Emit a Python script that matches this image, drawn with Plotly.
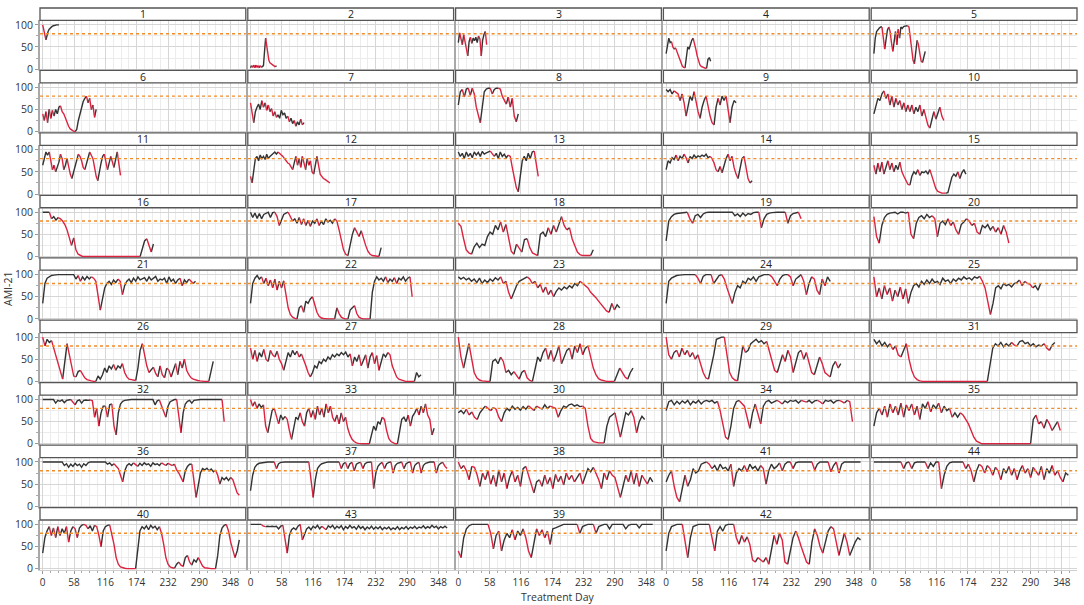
import plotly.graph_objects as go

# ---- data: AMI-21 score per panel, sampled every `step_days[panel]` treatment days ----
p1 = [100, 88, 72, 66, 78, 85, 90, 93, 95, 97, 98, 99, 99, 100, 100, 100]
p2 = [3, 8, 4, 9, 3, 9, 4, 8, 3, 8, 4, 6, 8, 40, 70, 50, 30, 20, 14, 12, 10, 8, 6, 5, 8]
p3 = [60, 82, 70, 55, 78, 60, 50, 30, 62, 72, 58, 70, 64, 72, 60, 75, 68, 30, 65, 78, 85, 55]
p4 = [35, 55, 70, 60, 62, 50, 45, 48, 40, 30, 20, 12, 7, 4, 3, 25, 50, 45, 58, 65, 70, 60, 45, 30, 18, 10, 6, 4, 3, 2, 2, 22, 26, 18]
p5 = [35, 70, 85, 90, 93, 95, 95, 70, 45, 70, 88, 95, 85, 60, 40, 60, 85, 55, 90, 70, 95, 92, 96, 97, 98, 98, 95, 70, 40, 20, 12, 35, 65, 55, 35, 18, 15, 30, 40]
p6 = [40, 25, 45, 20, 50, 30, 48, 35, 50, 40, 55, 58, 45, 40, 30, 20, 12, 6, 3, 1, 0, 5, 25, 40, 55, 68, 75, 80, 65, 75, 50, 60, 32, 50]
p7 = [65, 40, 20, 45, 55, 62, 50, 70, 55, 65, 48, 60, 45, 52, 35, 45, 32, 38, 30, 48, 38, 42, 30, 35, 22, 30, 18, 25, 12, 22, 15, 28, 15, 20]
p8 = [60, 90, 95, 78, 96, 98, 82, 98, 85, 55, 35, 20, 60, 90, 96, 98, 98, 85, 95, 98, 98, 96, 80, 70, 62, 78, 55, 75, 35, 22, 40]
p9 = [95, 90, 95, 85, 92, 88, 85, 70, 85, 65, 35, 60, 80, 70, 90, 65, 45, 30, 55, 70, 80, 55, 35, 20, 15, 55, 75, 60, 80, 70, 80, 45, 20, 55, 70, 65]
p10 = [40, 60, 75, 70, 85, 92, 75, 85, 60, 80, 55, 75, 60, 70, 50, 65, 45, 60, 45, 60, 40, 55, 45, 60, 35, 50, 30, 15, 8, 25, 45, 28, 40, 55, 35, 25]
p11 = [65, 80, 95, 88, 95, 70, 55, 65, 50, 60, 72, 90, 80, 55, 65, 80, 60, 45, 35, 50, 65, 80, 90, 85, 75, 60, 55, 70, 85, 95, 88, 80, 60, 40, 30, 55, 70, 85, 90, 75, 55, 70, 85, 70, 60, 80, 95, 70, 42]
p12 = [40, 25, 55, 80, 85, 75, 88, 80, 85, 78, 90, 80, 85, 88, 92, 95, 90, 95, 92, 90, 85, 80, 75, 70, 68, 60, 55, 70, 85, 65, 80, 60, 85, 70, 55, 80, 65, 75, 50, 45, 70, 85, 60, 45, 40, 35, 33, 30, 28, 25]
p13 = [95, 85, 92, 80, 95, 85, 92, 82, 95, 88, 94, 85, 96, 90, 93, 95, 97, 90, 85, 92, 80, 95, 85, 90, 82, 88, 85, 60, 35, 15, 5, 45, 75, 85, 75, 92, 80, 95, 97, 70, 40]
p14 = [55, 75, 70, 82, 78, 88, 75, 85, 80, 90, 82, 70, 85, 80, 88, 82, 86, 84, 88, 85, 90, 82, 85, 80, 70, 55, 50, 62, 48, 65, 80, 90, 75, 85, 60, 45, 35, 55, 80, 85, 60, 35, 25, 30]
p15 = [65, 45, 70, 50, 72, 45, 60, 75, 55, 70, 50, 65, 55, 72, 50, 40, 30, 22, 20, 40, 50, 45, 55, 42, 50, 48, 52, 45, 55, 40, 25, 12, 6, 3, 2, 2, 2, 3, 20, 38, 45, 40, 50, 35, 48, 55, 45]
p16 = [100, 100, 100, 100, 85, 90, 82, 88, 85, 80, 72, 60, 40, 25, 42, 15, 5, 2,
       0, 0, 0, 0, 0, 0, 0, 0, 0, 0, 0, 0, 0, 0, 0, 0, 0, 0, 0, 0, 0, 0, 0, 0, 0, 0, 0,
       15, 35, 40, 25, 10, 28]
p17 = [100, 88, 98, 86, 97, 85, 95, 98, 100, 88, 99, 100, 90, 70, 85, 95, 98, 100, 90, 80, 85, 75, 88, 72, 85, 70, 82, 68, 80, 75, 85, 70, 80, 72, 85, 78, 82, 75, 85, 80, 60, 35, 15, 5, 2, 30, 50, 65, 55, 45, 58, 40, 25, 12, 5, 2, 1, 0, 0, 20]
p18 = [75, 68, 40, 15, 8, 5, 22, 30, 20, 28, 25, 45, 55, 50, 70, 60, 78, 55, 72, 40, 12, 5, 28, 18, 10, 38, 40, 20, 8, 4, 2, 50, 55, 45, 65, 50, 70, 55, 75, 90, 70, 60, 65, 40, 25, 10, 4, 2, 2, 2, 2, 15]
p19 = [35, 80, 90, 95, 97, 98, 99, 100, 100, 85, 75, 92, 95, 88, 96, 99, 100, 100, 100, 100, 100, 100, 100, 100, 100, 100, 92, 96, 90, 98, 92, 97, 95, 99, 100, 100, 65, 85, 95, 98, 99, 100, 100, 100, 100, 100, 75, 92, 97, 99, 100, 85]
p20 = [90, 45, 30, 70, 88, 95, 98, 99, 100, 96, 100, 100, 98, 100, 50, 40, 75, 88, 92, 85, 95, 88, 92, 85, 45, 75, 80, 72, 85, 70, 78, 60, 50, 72, 78, 85, 80, 70, 75, 55, 50, 70, 65, 72, 60, 68, 55, 65, 50, 70, 55, 30]
p21 = [35, 80, 92, 96, 98, 99, 100, 100, 100, 100, 100, 100, 100, 100, 100, 90, 98, 85, 95, 88, 96, 90, 95, 92, 85, 50, 20, 50, 70, 80, 85, 78, 88, 82, 90, 85, 55, 75, 85, 90, 82, 92, 85, 95, 88, 90, 93, 85, 95, 88, 92, 96, 85, 90, 88, 92, 80, 95, 85, 90, 80, 88, 92, 75, 88, 82, 90, 85, 80, 85]
p22 = [35, 80, 92, 98, 90, 95, 80, 92, 75, 88, 70, 90, 65, 85, 70, 86, 50, 25, 10, 4, 1, 0, 25, 30, 15, 40, 35, 45, 50, 30, 15, 6, 2, 1, 0, 0, 0, 0, 0, 25, 12, 4, 1, 0, 0, 20, 25, 30, 12, 4, 1, 0, 0, 0, 0, 60, 85, 95, 88, 92, 85, 95, 82, 90, 85, 93, 80, 92, 88, 95, 85, 92, 95, 50]
p23 = [95, 90, 94, 88, 92, 85, 90, 82, 92, 80, 88, 82, 90, 85, 93, 88, 95, 80, 85, 60, 45, 60, 75, 85, 88, 92, 95, 90, 80, 85, 70, 78, 60, 72, 55, 65, 50, 62, 70, 65, 72, 68, 75, 70, 80, 75, 85, 80, 75, 70, 60, 55, 48, 40, 32, 25, 18, 15, 35, 20, 32, 25]
p24 = [35, 85, 92, 96, 98, 99, 100, 100, 100, 100, 100, 100, 92, 80, 96, 100, 100, 100, 80, 90, 98, 100, 90, 70, 50, 35, 60, 75, 70, 85, 80, 92, 88, 95, 85, 95, 98, 100, 100, 100, 95, 85, 75, 90, 98, 100, 100, 95, 75, 90, 95, 100, 85, 55, 80, 95, 90, 65, 55, 90, 75, 95, 85]
p25 = [95, 50, 70, 45, 75, 55, 70, 40, 65, 50, 72, 45, 68, 35, 60, 75, 80, 72, 85, 78, 88, 80, 90, 82, 85, 78, 92, 85, 88, 80, 90, 85, 92, 88, 95, 90, 93, 88, 95, 92, 96, 85, 70, 40, 10, 35, 70, 75, 68, 80, 75, 78, 72, 80, 82, 88, 75, 85, 80, 78, 70, 75, 65, 80]
p26 = [100, 80, 95, 88, 92, 75, 55, 40, 20, 5, 50, 85, 60, 30, 12, 10, 22, 25, 15, 8, 4, 2, 1, 0, 0, 12, 5, 15, 30, 20, 35, 28, 38, 25, 35, 30, 40, 20, 10, 5, 4, 3, 2, 30, 70, 85, 60, 35, 20, 25, 32, 18, 10, 35, 15, 8, 30, 25, 10, 28, 40, 15, 45, 30, 50, 25, 15, 8, 5, 3, 2, 1, 0, 0, 0, 0, 20, 45]
p27 = [75, 50, 70, 45, 65, 55, 72, 50, 45, 70, 60, 55, 68, 50, 40, 25, 45, 65, 55, 70, 60, 68, 55, 62, 50, 35, 20, 10, 20, 35, 30, 45, 40, 50, 45, 55, 50, 60, 55, 62, 58, 65, 60, 66, 55, 62, 35, 55, 45, 60, 35, 50, 60, 30, 55, 65, 40, 58, 25, 45, 62, 55, 65, 60, 35, 20, 10, 5, 3, 1, 0, 0, 0, 0, 0, 20, 10, 15]
p28 = [100, 55, 30, 60, 85, 50, 20, 8, 3, 1, 0, 0, 0, 45, 50, 40, 55, 45, 20, 25, 15, 22, 12, 5, 20, 25, 8, 2, 0, 30, 55, 45, 65, 75, 50, 70, 45, 60, 80, 40, 55, 70, 75, 50, 80, 65, 85, 60, 75, 80, 55, 30, 15, 6, 3, 1, 0, 0, 0, 0, 15, 30, 20, 10, 5, 20, 30]
p29 = [100, 60, 50, 65, 70, 55, 75, 60, 70, 55, 65, 50, 60, 40, 20, 8, 5, 30, 60, 95, 98, 100, 100, 60, 20, 8, 3, 1, 40, 80, 65, 70, 85, 90, 95, 88, 92, 85, 90, 70, 45, 25, 20, 40, 60, 45, 70, 55, 20, 40, 65, 70, 50, 65, 40, 20, 15, 35, 55, 40, 20, 15, 10, 35, 45, 30, 40]
p30 = [70, 75, 68, 78, 65, 72, 60, 55, 70, 78, 85, 80, 75, 82, 78, 60, 50, 70, 80, 75, 85, 78, 82, 76, 84, 78, 86, 80, 75, 85, 82, 78, 88, 80, 85, 82, 80, 60, 75, 85, 82, 88, 90, 85, 88, 84, 85, 80, 40, 12, 5, 3, 2, 2, 2, 40, 60, 65, 70, 40, 15, 45, 70, 65, 75, 60, 25, 50, 62, 55]
p31 = [95, 85, 92, 80, 88, 78, 85, 72, 80, 60, 55, 70, 85, 50, 25, 10, 4, 1,
       0, 0, 0, 0, 0, 0, 0, 0, 0, 0, 0, 0, 0, 0, 0, 0, 0, 0, 0, 0, 0, 0, 0, 0, 0,
       40, 75, 85, 80, 88, 78, 85, 80, 88, 82, 80, 90, 92, 85, 88, 80, 85, 78, 82, 80, 85, 75, 70, 82, 88]
p32 = [100, 100, 100, 100, 100, 100, 92, 98, 96, 99, 93, 98, 99, 100, 95, 88, 97, 99, 92, 98, 99, 98, 99, 97,
       60, 80, 40, 70, 85, 85, 60, 88, 90, 40, 20, 70, 90, 96, 98, 99,
       100, 100, 100, 100, 100, 100, 100, 100, 100, 100, 100, 100,
       88, 97, 99, 85, 70, 60, 85, 95, 98, 100, 100, 60, 25, 70, 90, 96, 98, 92, 98, 99, 100,
       100, 100, 100, 100, 100, 100, 100, 100, 100, 100, 100, 50]
p33 = [100, 85, 95, 80, 90, 82, 88, 40, 25, 55, 75, 80, 60, 45, 65, 55, 62, 55, 30, 10, 35, 60, 55, 70, 50, 40, 70, 80, 60, 75, 55, 85, 65, 80, 60, 90, 70, 85, 60, 50, 65, 45, 70, 50, 60, 35, 20, 10, 5, 2, 1, 0, 0, 0, 0, 0, 20, 40, 30, 50, 45, 60, 55, 30, 12, 5, 2, 0, 0, 30, 55, 60, 50, 65, 40, 62, 70, 80, 65, 85, 70, 90, 65, 55, 20, 35]
p34 = [75, 95, 98, 88, 96, 90, 97, 92, 98, 88, 96, 92, 98, 90, 96, 98, 95, 98, 92, 96, 75, 45, 15, 10, 40, 80, 95, 98, 92, 85, 60, 35, 70, 90, 70, 45, 85, 95, 98, 92, 96, 98, 95, 90, 97, 93, 98, 96, 98, 92, 98, 96, 94, 98, 92, 97, 98, 95, 90, 98, 96, 98, 92, 97, 98, 96, 92, 98, 95, 50]
p35 = [40, 70, 80, 65, 85, 60, 90, 70, 85, 65, 92, 60, 88, 75, 90, 65, 85, 55, 90, 80, 95, 72, 88, 80, 92, 70, 85, 75,
       80, 60, 70, 60, 70, 65, 55, 45, 30, 15, 6, 2,
       0, 0, 0, 0, 0, 0, 0, 0, 0, 0, 0, 0, 0, 0, 0, 0, 0, 0, 0,
       55, 65, 45, 50, 35, 55, 45, 30, 40, 50, 30]
p36 = [100, 100, 100, 100, 100, 100, 100, 100, 100, 100,
       92, 96, 88, 95, 90, 97, 92, 95, 88, 96, 92, 98,
       100, 100, 100, 100, 100, 100, 100, 100,
       95, 98, 92, 96, 90, 85, 70, 55, 80, 92, 96, 92, 98, 94, 90, 97, 92, 98, 94, 96, 90, 98, 94, 96, 92, 98, 95, 92, 97, 94, 92, 95,
       82, 75, 65, 55, 80, 90, 95, 95, 60, 20, 50, 75, 85, 82, 86, 80, 84, 78, 82, 70, 50, 65, 60, 65, 58, 65, 60, 45, 30, 25]
p37 = [35, 70, 88, 94, 97, 98, 99, 100, 100, 100, 100, 100,
       85, 96, 99,
       100, 100, 100, 100, 100, 100, 100, 100, 100, 100, 100, 100, 100,
       60, 20, 60, 85, 92, 96, 98, 99,
       100, 100, 100, 100, 100, 100,
       85, 96, 99, 85, 96, 99, 80, 95, 98, 99, 85, 96, 99, 100, 100,
       40, 75, 90, 96, 99, 85, 96, 99, 100, 75, 92, 97, 99, 100,
       85, 96, 99, 100, 75, 92, 97, 99, 75, 92, 97, 99, 100, 100, 100,
       75, 92, 97, 99, 90, 85]
p38 = [100, 85, 92, 80, 60, 90, 88, 70, 45, 75, 60, 80, 50, 70, 45, 82, 55, 75, 40, 65, 80, 55, 70, 45, 85, 90, 70, 45, 30, 55, 60, 45, 70, 50, 65, 40, 72, 55, 68, 48, 75, 60, 70, 55, 65, 75, 50, 70, 85, 78, 88, 75, 60, 40, 75, 60, 80, 70, 65, 40, 20, 45, 70, 55, 80, 50, 75, 45, 70, 60, 50, 65, 55]
p39 = [40, 25, 70, 90, 97, 100, 100, 100, 100, 100, 100, 100, 80, 45, 75, 85, 40, 65, 80, 70, 88, 65, 85, 75, 90, 70, 40, 25, 60, 90, 75, 88, 70, 85, 55, 90, 92, 95, 98, 100, 100, 100, 100, 100, 100, 80, 95, 98, 100, 100, 100, 80, 95, 98, 100, 100, 90, 100, 100, 100, 100, 100, 90, 98, 100, 100, 100, 92, 100, 100, 100, 100, 100]
p40 = [35, 70, 85, 95, 75, 92, 70, 95, 75, 90, 80, 95, 60, 85, 95, 90, 70, 92, 98, 100, 98, 90, 97, 85, 98, 95, 75, 50, 85, 95, 98, 99, 80, 55, 25, 10, 4, 2, 1, 0, 0, 0, 0, 0, 40, 85, 95, 90, 97, 88, 98, 92, 96, 88, 95, 80, 55, 25, 10, 4, 2, 1, 10, 15, 8, 5, 25, 30, 15, 8, 20, 15, 25, 15, 6, 2, 1, 0, 0, 0, 0, 30, 75, 92, 98, 100, 85, 60, 40, 25, 40, 65]
p41 = [55, 70, 80, 45, 20, 10, 40, 70, 45, 60, 85, 75, 80, 95, 98, 100, 95, 85, 92, 80, 95, 85, 88, 80, 95, 45, 75, 85, 80, 92, 78, 95, 85, 90, 80, 92, 85, 50, 80, 95, 85, 90, 98, 80, 95, 100, 100, 85, 98, 100, 100, 100, 100, 100, 100, 82, 95, 100, 100, 100, 100, 78, 92, 100, 75, 95, 100, 100, 100, 100, 100, 100, 100]
p42 = [40, 80, 95, 98, 100, 100, 100, 60, 25, 70, 95, 98, 100, 100, 100, 100, 100, 70, 40, 85, 95, 85, 98, 100, 100, 100, 70, 55, 75, 60, 72, 55, 20, 15, 25, 20, 15, 25, 10, 40, 75, 55, 80, 65, 15, 10, 40, 70, 85, 70, 50, 30, 15, 10, 60, 90, 75, 50, 35, 60, 85, 95, 90, 60, 30, 55, 80, 60, 30, 45, 60, 70, 65]
p43 = [100, 100, 100, 100, 100, 100, 96, 95, 96, 95, 96, 95, 96, 90, 96, 98, 70, 35, 75, 88, 92, 88, 96, 100, 65, 80, 90, 94, 88, 96, 92, 98, 90, 96, 92, 88, 97, 93, 98, 90, 96, 92, 97, 88, 95, 91, 98, 92, 95, 89, 97, 91, 95, 88, 94, 90, 96, 89, 94, 90, 95, 88, 93, 90, 94, 88, 92, 89, 95, 88, 93, 90, 95, 89, 94, 91, 96, 90, 94, 92, 97, 91, 95, 92, 98, 93, 96, 90, 95, 92, 96, 92]
p44 = [100, 100, 100, 100, 100, 100, 100, 100, 100, 100, 100, 85, 98, 100, 85, 98, 100, 100, 100, 100, 85, 98, 90, 100, 100, 40, 70, 90, 98, 100, 100, 100, 100, 100, 85, 95, 80, 55, 80, 95, 90, 75, 92, 85, 70, 88, 80, 60, 85, 75, 90, 70, 85, 60, 80, 92, 75, 85, 65, 88, 80, 70, 90, 60, 85, 75, 92, 70, 80, 65, 55, 75, 70]

series = {1: p1, 2: p2, 3: p3, 4: p4, 5: p5, 6: p6, 7: p7, 8: p8, 9: p9, 10: p10,
          11: p11, 12: p12, 13: p13, 14: p14, 15: p15, 16: p16, 17: p17, 18: p18, 19: p19, 20: p20,
          21: p21, 22: p22, 23: p23, 24: p24, 25: p25, 26: p26, 27: p27, 28: p28, 29: p29, 30: p30,
          31: p31, 32: p32, 33: p33, 34: p34, 35: p35, 36: p36, 37: p37, 38: p38, 39: p39, 40: p40,
          41: p41, 42: p42, 43: p43, 44: p44}

step_days = {1: 2, 2: 2, 3: 2.5, 4: 2.5, 5: 2.5, 6: 3, 7: 3, 8: 3.7, 9: 3.7, 10: 3.7,
             11: 3, 12: 3, 13: 3.7, 14: 3.7, 15: 3.7, 16: 4.1, 17: 4.1, 18: 4.9, 19: 4.9, 20: 4.9,
             21: 4.1, 22: 4.1, 23: 4.9, 24: 4.9, 25: 4.9, 26: 4.1, 27: 4.1, 28: 4.9, 29: 4.9, 30: 5,
             31: 5, 32: 4, 33: 4, 34: 5, 35: 5, 36: 4, 37: 4, 38: 5, 39: 5, 40: 4,
             41: 5, 42: 5, 43: 4, 44: 5}

panel_order = [1, 2, 3, 4, 5, 6, 7, 8, 9, 10, 11, 12, 13, 14, 15, 16, 17, 18, 19, 20,
               21, 22, 23, 24, 25, 26, 27, 28, 29, 31, 32, 33, 30, 34, 35, 36, 37, 38, 41, 44,
               40, 43, 39, 42, None]

x_ticks = [0, 58, 116, 174, 232, 290, 348]
y_ticks = [0, 50, 100]
threshold = 80

# ---- layout geometry ----
W, H = 1084, 605
ML, MR, MT, MB = 40, 7, 5, 35
PW, PH = W - ML - MR, H - MT - MB
NCOL, NROW = 5, 9
GAP = 2.0
CW = (PW - GAP * (NCOL - 1)) / NCOL
RH = PH / NROW
SH = 12.5

BLACK = "#333333"
RED = "#dc2340"
FONT = "Open Sans"


def colour_runs(vals, step):
    xs = [i * step for i in range(len(vals))]
    n = len(vals) - 1
    dec = [vals[i + 1] < vals[i] for i in range(n)]
    segs = []
    for i in range(n):
        v0, v1 = vals[i], vals[i + 1]
        chain = dec[i] and ((i > 0 and dec[i - 1]) or (i + 1 < n and dec[i + 1]))
        red = (v1 < v0 - 12) or chain or (v1 <= v0 and v0 <= 10)
        segs.append(red)
    out = {True: ([], []), False: ([], [])}
    i = 0
    while i < len(segs):
        j = i
        while j + 1 < len(segs) and segs[j + 1] == segs[i]:
            j += 1
        bx, by = out[segs[i]]
        bx.extend(xs[i:j + 2])
        by.extend(vals[i:j + 2])
        bx.append(None)
        by.append(None)
        i = j + 1
    return out


fig = go.Figure()
layout = {}
shapes = []
annotations = []

for k, pid in enumerate(panel_order):
    r, c = divmod(k, NCOL)
    n = k + 1
    sfx = "" if n == 1 else str(n)
    left = c * (CW + GAP)
    x0, x1 = left / PW, (left + CW) / PW
    top = r * RH
    y_strip_top = 1 - top / PH
    y_strip_bot = 1 - (top + SH) / PH
    y_plot_bot = 1 - (top + RH) / PH
    bottom_row = (r == NROW - 1)
    first_col = (c == 0)

    layout["xaxis" + sfx] = dict(
        domain=[x0, x1], anchor="y" + sfx, range=[-5, 376],
        tickmode="array", tickvals=x_ticks, ticktext=[str(t) for t in x_ticks],
        showticklabels=bottom_row, ticks="outside" if bottom_row else "",
        ticklen=3, tickcolor="#999999",
        tickfont=dict(size=10, color="#333333", family=FONT),
        showgrid=True, gridcolor="#d6d6d6", gridwidth=1.3,
        minor=dict(tickmode="linear", tick0=0, dtick=14.5, showgrid=True,
                   gridcolor="#ececec", gridwidth=1,
                   ticks="outside" if bottom_row else "", ticklen=2, tickcolor="#aaaaaa"),
        zeroline=False, showline=True, linecolor="#cfcfcf", linewidth=1,
        fixedrange=True,
    )
    layout["yaxis" + sfx] = dict(
        domain=[y_plot_bot, y_strip_bot], anchor="x" + sfx, range=[-3, 110],
        tickmode="array", tickvals=y_ticks, ticktext=[str(t) for t in y_ticks],
        showticklabels=first_col, ticks="outside" if first_col else "",
        ticklen=3, tickcolor="#999999",
        tickfont=dict(size=10.5, color="#333333", family=FONT),
        showgrid=True, gridcolor="#d6d6d6", gridwidth=1.3,
        minor=dict(tickmode="linear", tick0=0, dtick=25, showgrid=True,
                   gridcolor="#ececec", gridwidth=1,
                   ticks="outside" if first_col else "", ticklen=2, tickcolor="#aaaaaa"),
        zeroline=False, showline=True, linecolor="#a8a8a8", linewidth=1.6,
        fixedrange=True,
    )

    # strip (facet header)
    shapes.append(dict(type="rect", xref="paper", yref="paper",
                       x0=x0, x1=x1, y0=y_strip_bot, y1=y_strip_top,
                       fillcolor="white", line=dict(color="#555555", width=1.3), layer="above"))
    if pid is not None:
        annotations.append(dict(xref="paper", yref="paper", x=(x0 + x1) / 2,
                                y=(y_strip_bot + y_strip_top) / 2, text=str(pid),
                                showarrow=False, xanchor="center", yanchor="middle",
                                font=dict(size=10.5, color="#222222", family=FONT)))

    # threshold line at 80
    dom = ("x" + sfx) + " domain"
    shapes.append(dict(type="line", xref=dom, yref="y" + sfx, x0=0, x1=1,
                       y0=threshold, y1=threshold,
                       line=dict(color="#f28c28", width=1.4, dash="dot"), layer="above"))

    if pid is not None:
        runs = colour_runs(series[pid], step_days[pid])
        for is_red in (False, True):
            xx, yy = runs[is_red]
            if not xx:
                continue
            fig.add_trace(go.Scatter(
                x=xx, y=yy, mode="lines",
                line=dict(color=RED if is_red else BLACK, width=1.4),
                xaxis="x" + sfx, yaxis="y" + sfx,
                hoverinfo="skip", showlegend=False, connectgaps=False))
    else:
        fig.add_trace(go.Scatter(x=[None], y=[None], mode="lines",
                                 xaxis="x" + sfx, yaxis="y" + sfx,
                                 hoverinfo="skip", showlegend=False))

annotations.append(dict(xref="paper", yref="paper", x=(8 - ML) / PW, y=0.5,
                        text="AMI-21", textangle=-90, showarrow=False,
                        xanchor="center", yanchor="middle",
                        font=dict(size=10.5, color="#333333", family=FONT)))
annotations.append(dict(xref="paper", yref="paper", x=(558 - ML) / PW,
                        y=1 - (597 - MT) / PH, text="Treatment Day", showarrow=False,
                        xanchor="center", yanchor="middle",
                        font=dict(size=10.5, color="#333333", family=FONT)))

fig.update_layout(
    width=W, height=H,
    margin=dict(l=ML, r=MR, t=MT, b=MB, pad=0),
    paper_bgcolor="white", plot_bgcolor="white",
    showlegend=False,
    shapes=shapes, annotations=annotations,
    font=dict(family=FONT, size=11, color="#333333"),
    **layout,
)

fig.write_html("out.html", config={"displayModeBar": False},
               post_script="document.body.style.margin='0px';document.body.style.overflow='hidden';")
